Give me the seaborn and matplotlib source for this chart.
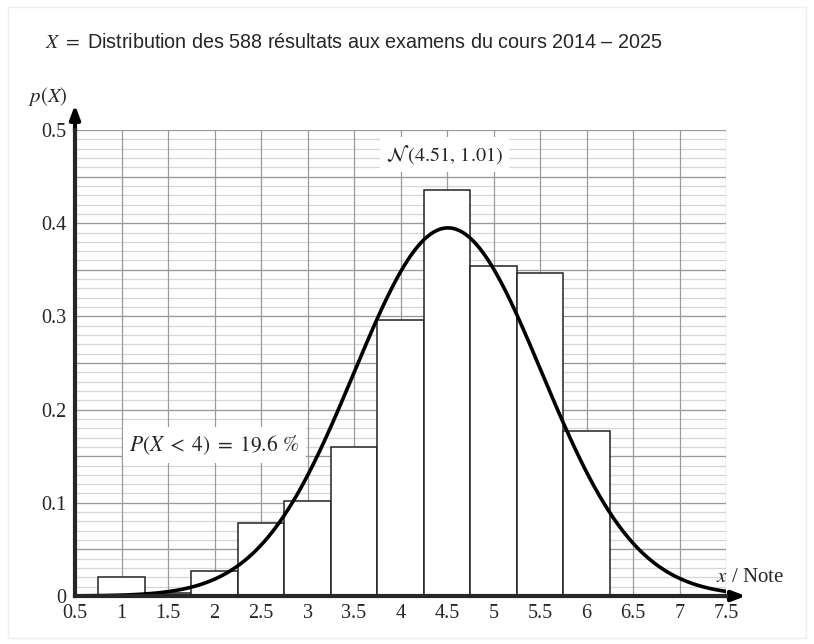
import numpy as np
import pandas as pd
import matplotlib
matplotlib.use("Agg")
import matplotlib.pyplot as plt
from matplotlib.ticker import MultipleLocator
from matplotlib.patches import Rectangle
import seaborn as sns

# Exam results: grade bins (centres) and counts
grade_centres = [1.0, 1.5, 2.0, 2.5, 3.0, 3.5, 4.0, 4.5, 5.0, 5.5, 6.0]
grade_counts = [6, 1, 8, 23, 30, 47, 87, 128, 104, 102, 52]
n_total = 588
mu, sigma = 4.51, 1.01
x_ticks = [0.5, 1, 1.5, 2, 2.5, 3, 3.5, 4, 4.5, 5, 5.5, 6, 6.5, 7, 7.5]
x_tick_labels = ["0.5", "1", "1.5", "2", "2.5", "3", "3.5", "4", "4.5", "5", "5.5", "6", "6.5", "7", "7.5"]

df = pd.DataFrame({"note": grade_centres, "count": grade_counts})

sns.set_style("white")
plt.rcParams["font.family"] = ["Liberation Serif", "DejaVu Serif"]
plt.rcParams["mathtext.fontset"] = "stix"

fig = plt.figure(figsize=(8.14, 6.44), dpi=100)
ax = fig.add_axes([75 / 814, 48 / 644, 651 / 814, 466 / 644])

# light frame around the figure
fig.patches.append(Rectangle((8 / 814, 6 / 644), 798 / 814, 631 / 644, transform=fig.transFigure,
                             fill=False, edgecolor="#eeeeee", linewidth=1))

# fine 0.01 grid lines
ax.hlines(np.arange(0.01, 0.5, 0.01), 0.5, 7.5, color="#d6d6d6", linewidth=0.9, zorder=0)
ax.hlines(np.arange(0.05, 0.51, 0.05), 0.5, 7.5, color="#9a9a9a", linewidth=0.9, zorder=0)
ax.vlines(np.arange(1.0, 7.51, 0.5), 0, 0.5, color="#9a9a9a", linewidth=0.9, zorder=0)

# histogram (density)
sns.histplot(data=df, x="note", weights="count", bins=len(grade_centres), binrange=(0.75, 6.25),
             stat="density", color="white", edgecolor="#222222", linewidth=1.1,
             alpha=1, ax=ax, zorder=2)

# fitted normal curve
xs = np.linspace(0.5, 7.5, 400)
pdf = np.exp(-0.5 * ((xs - mu) / sigma) ** 2) / (sigma * np.sqrt(2 * np.pi))
sns.lineplot(x=xs, y=pdf, color="black", linewidth=2.6, ax=ax, zorder=3)

ax.set_xlim(0.5, 7.5)
ax.set_ylim(0, 0.5)
ax.set_xticks(x_ticks)
ax.set_xticklabels(x_tick_labels)
ax.yaxis.set_minor_locator(MultipleLocator(0.05))
ax.set_yticks([0, 0.1, 0.2, 0.3, 0.4, 0.5])
ax.set_yticklabels(["0", "0.1", "0.2", "0.3", "0.4", "0.5"])
ax.tick_params(axis="both", which="both", direction="out", length=4, width=1, labelsize=14.5, pad=2)
ax.set_xlabel("")
ax.set_ylabel("")

for side in ["top", "right"]:
    ax.spines[side].set_visible(False)
ax.spines["left"].set_linewidth(3)
ax.spines["bottom"].set_linewidth(3)
ax.spines["left"].set_zorder(5)
ax.spines["bottom"].set_zorder(5)

# arrows at axis ends
ax.annotate("", xy=(0, 1.06), xytext=(0, 0.99), xycoords="axes fraction",
            arrowprops=dict(arrowstyle="-|>,head_width=0.3,head_length=0.8", color="black", lw=3),
            annotation_clip=False)
ax.annotate("", xy=(1.035, 0), xytext=(0.99, 0), xycoords="axes fraction",
            arrowprops=dict(arrowstyle="-|>,head_width=0.3,head_length=0.8", color="black", lw=3),
            annotation_clip=False)

ax.text(-0.041, 1.071, r"$p(X)$", transform=ax.transAxes, fontsize=15, ha="center", va="center")
ax.text(1.037, 0.04, r"$x$ / Note", transform=ax.transAxes, fontsize=15, ha="center", va="center")

box = dict(boxstyle="square,pad=0.3", facecolor="white", edgecolor="none")
ax.text(4.47, 0.474, r"$\mathcal{N}\,(4.51,\, 1.01)$", fontsize=14.5, ha="center", va="center",
        bbox=box, zorder=4)
ax.text(2.0, 0.162, r"$P\left(X\;<\;4\right)\;=\;19.6\ \%$", fontsize=15.5, ha="center", va="center",
        bbox=box, zorder=4)

fig.text(45 / 814, 1 - 42 / 644, r"$X\ =$ Distribution des 588 résultats aux examens du cours 2014 – 2025",
         fontsize=14.2, family=["Liberation Sans", "DejaVu Sans"], ha="left", va="center")

fig.savefig("out.png", dpi=100)
